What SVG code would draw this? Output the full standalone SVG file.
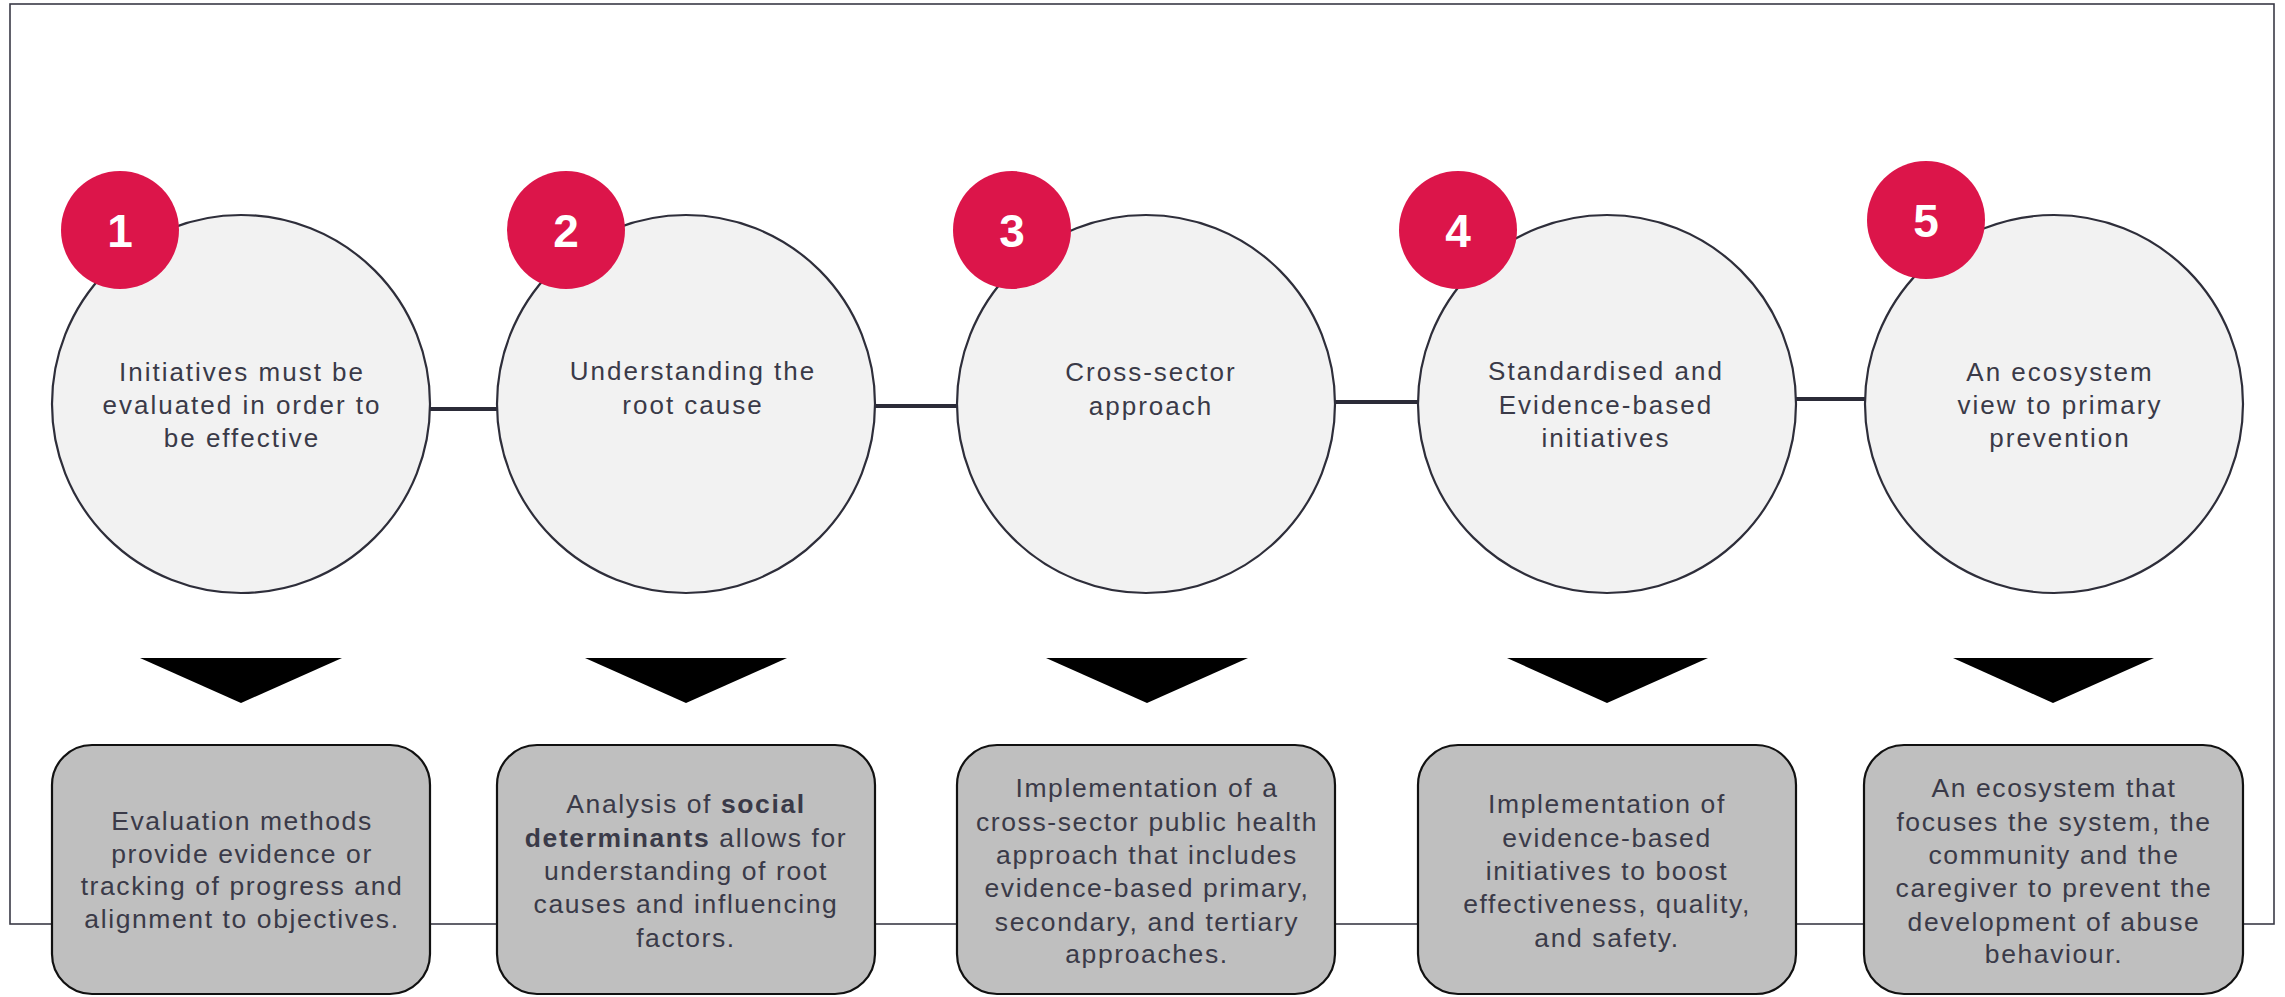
<svg xmlns="http://www.w3.org/2000/svg" width="2285" height="997" viewBox="0 0 2285 997">
<defs>
<style>
.frame{fill:none;stroke:#3a3a46;stroke-width:1.6}
.circ{fill:#f2f2f2;stroke:#2e2e3a;stroke-width:2.2}
.badge{fill:#dc154a}
.num{fill:#ffffff;font-family:"Liberation Sans",Arial,sans-serif;font-weight:bold;font-size:46px;text-anchor:middle}
.ctext{fill:#3a3a48;font-family:"Liberation Sans",Arial,sans-serif;font-size:26px;letter-spacing:2px;text-anchor:middle}
.btext{fill:#3a3a48;font-family:"Liberation Sans",Arial,sans-serif;font-size:26.5px;letter-spacing:1.6px;text-anchor:middle}
.box{fill:#bfbfbf;stroke:#111111;stroke-width:2.2}
.tri{fill:#000000}
.conn{stroke:#2b2b38;stroke-width:4;fill:none}
</style>
</defs>
<rect x="0" y="0" width="2285" height="997" fill="#ffffff"/>
<rect class="frame" x="10" y="4" width="2264" height="920"/>
<g id="connectors">
<line class="conn" x1="429" y1="409" x2="498" y2="409"/>
<line class="conn" x1="874" y1="406" x2="958" y2="406"/>
<line class="conn" x1="1334" y1="402" x2="1419" y2="402"/>
<line class="conn" x1="1795" y1="399" x2="1866" y2="399"/>
<polygon class="tri" points="140,658 342,658 241,703"/>
<polygon class="tri" points="585,658 787,658 686,703"/>
<polygon class="tri" points="1046,658 1248,658 1147,703"/>
<polygon class="tri" points="1507,658 1708,658 1607,703"/>
<polygon class="tri" points="1953,658 2154,658 2053,703"/>
</g>
<g id="node1">
<circle class="circ" cx="241" cy="404" r="189"/>
<circle class="badge" cx="120" cy="230" r="59"/>
<text class="num" x="120" y="247">1</text>
<text class="ctext" x="242" y="381">Initiatives must be</text>
<text class="ctext" x="242" y="414">evaluated in order to</text>
<text class="ctext" x="242" y="447">be effective</text>
</g>
<g id="node2">
<circle class="circ" cx="686" cy="404" r="189"/>
<circle class="badge" cx="566" cy="230" r="59"/>
<text class="num" x="566" y="247">2</text>
<text class="ctext" x="693" y="380">Understanding the</text>
<text class="ctext" x="693" y="414">root cause</text>
</g>
<g id="node3">
<circle class="circ" cx="1146" cy="404" r="189"/>
<circle class="badge" cx="1012" cy="230" r="59"/>
<text class="num" x="1012" y="247">3</text>
<text class="ctext" x="1151" y="381">Cross-sector</text>
<text class="ctext" x="1151" y="415">approach</text>
</g>
<g id="node4">
<circle class="circ" cx="1607" cy="404" r="189"/>
<circle class="badge" cx="1458" cy="230" r="59"/>
<text class="num" x="1458" y="247">4</text>
<text class="ctext" x="1606" y="380">Standardised and</text>
<text class="ctext" x="1606" y="414">Evidence-based</text>
<text class="ctext" x="1606" y="447">initiatives</text>
</g>
<g id="node5">
<circle class="circ" cx="2054" cy="404" r="189"/>
<circle class="badge" cx="1926" cy="220" r="59"/>
<text class="num" x="1926" y="237">5</text>
<text class="ctext" x="2060" y="381">An ecosystem</text>
<text class="ctext" x="2060" y="414">view to primary</text>
<text class="ctext" x="2060" y="447">prevention</text>
</g>
<g id="box1">
<rect class="box" x="52" y="745" width="378" height="249" rx="40"/>
<text class="btext" x="242" y="830">Evaluation methods</text>
<text class="btext" x="242" y="863">provide evidence or</text>
<text class="btext" x="242" y="895">tracking of progress and</text>
<text class="btext" x="242" y="928">alignment to objectives.</text>
</g>
<g id="box2">
<rect class="box" x="497" y="745" width="378" height="249" rx="40"/>
<text class="btext" x="686" y="813">Analysis of <tspan font-weight="bold">social</tspan></text>
<text class="btext" x="686" y="847"><tspan font-weight="bold">determinants</tspan> allows for</text>
<text class="btext" x="686" y="880">understanding of root</text>
<text class="btext" x="686" y="913">causes and influencing</text>
<text class="btext" x="686" y="947">factors.</text>
</g>
<g id="box3">
<rect class="box" x="957" y="745" width="378" height="249" rx="40"/>
<text class="btext" x="1147" y="797">Implementation of a</text>
<text class="btext" x="1147" y="831">cross-sector public health</text>
<text class="btext" x="1147" y="864">approach that includes</text>
<text class="btext" x="1147" y="897">evidence-based primary,</text>
<text class="btext" x="1147" y="931">secondary, and tertiary</text>
<text class="btext" x="1147" y="963">approaches.</text>
</g>
<g id="box4">
<rect class="box" x="1418" y="745" width="378" height="249" rx="40"/>
<text class="btext" x="1607" y="813">Implementation of</text>
<text class="btext" x="1607" y="847">evidence-based</text>
<text class="btext" x="1607" y="880">initiatives to boost</text>
<text class="btext" x="1607" y="913">effectiveness, quality,</text>
<text class="btext" x="1607" y="947">and safety.</text>
</g>
<g id="box5">
<rect class="box" x="1864" y="745" width="379" height="249" rx="40"/>
<text class="btext" x="2054" y="797">An ecosystem that</text>
<text class="btext" x="2054" y="831">focuses the system, the</text>
<text class="btext" x="2054" y="864">community and the</text>
<text class="btext" x="2054" y="897">caregiver to prevent the</text>
<text class="btext" x="2054" y="931">development of abuse</text>
<text class="btext" x="2054" y="963">behaviour.</text>
</g>
</svg>
